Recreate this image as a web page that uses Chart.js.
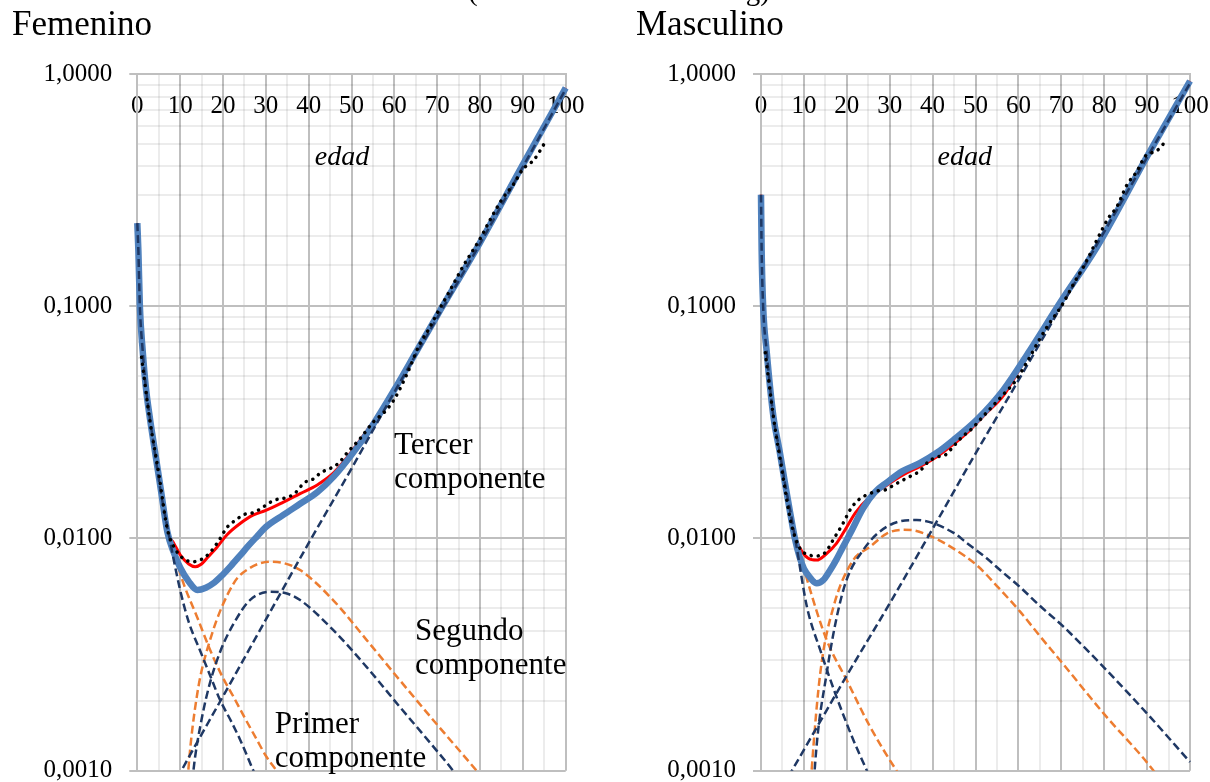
<!DOCTYPE html>
<html lang="es">
<head>
<meta charset="utf-8">
<title>Femenino / Masculino</title>
<script src="https://cdn.jsdelivr.net/npm/chart.js@4.4.1/dist/chart.umd.min.js"></script>
<style>
  html, body { margin: 0; padding: 0; background: #fff; overflow: hidden; }
  #page { position: relative; width: 1210px; height: 782px; }
  .panel { position: absolute; top: 0; height: 782px; width: 605px; }
  #izq { left: 0; }
  #der { left: 605px; }
  #cabecera { position: absolute; left: 468px; top: -24px; font: 29px "Liberation Serif", serif; line-height: 29px; white-space: nowrap; }
</style>
</head>
<body>
<div id="page">
  <div class="panel" id="izq"><canvas id="femenino"></canvas></div>
  <div class="panel" id="der"><canvas id="masculino"></canvas></div>
  <div id="cabecera">(mortalidad en escala log)</div>
</div>
<script>
// ---- Femenino ----
const femEdadesAzul = [0, 0.25, 0.6, 1.25, 2, 3, 4, 5.5, 7, 8.5, 10, 12, 14, 16, 18, 20, 22, 24, 26, 28, 30, 34, 38, 42, 46, 50, 55, 60, 65, 70, 80, 90, 100];
const femAzul = [0.228, 0.174, 0.1, 0.0646, 0.0447, 0.0324, 0.0245, 0.0162, 0.0107, 0.00871, 0.0075, 0.00653, 0.0060, 0.00614, 0.00646, 0.0070, 0.00767, 0.00845, 0.00933, 0.01023, 0.0112, 0.0126, 0.0141, 0.0158, 0.0186, 0.0229, 0.0309, 0.0437, 0.0631, 0.0912, 0.188, 0.407, 0.871];

const femEdadesRojo = [0, 0.25, 0.6, 1.25, 2, 3, 4, 5.5, 7, 8.5, 10, 12, 13.5, 15, 16.5, 18.5, 21, 24, 27, 30, 34, 38, 42, 46, 49, 52, 55, 60, 65, 70, 80, 90, 100];
const femRojo = [0.228, 0.174, 0.1, 0.0646, 0.0447, 0.0324, 0.0245, 0.0162, 0.0107, 0.00955, 0.00851, 0.00776, 0.00755, 0.00776, 0.00832, 0.00912, 0.0104, 0.0116, 0.0126, 0.0132, 0.0143, 0.0156, 0.0170, 0.0193, 0.0224, 0.0265, 0.0316, 0.0437, 0.0631, 0.0912, 0.188, 0.407, 0.871];

const femEdadesObs = [1, 3, 5, 7, 9, 11, 13, 15, 17, 19, 21, 23, 25, 27, 29, 31, 33, 35, 37, 39, 41, 43, 45, 47, 49, 52, 55, 58, 60, 63, 66, 68, 70, 73, 76, 78, 80, 82, 85, 88, 90, 92.6, 95];
const femObs = [0.0603, 0.0316, 0.0191, 0.0110, 0.00891, 0.00813, 0.00794, 0.00813, 0.00871, 0.00977, 0.0112, 0.0120, 0.0127, 0.0129, 0.0135, 0.0143, 0.0148, 0.0150, 0.0158, 0.0174, 0.0180, 0.0193, 0.0200, 0.0211, 0.0234, 0.0269, 0.0316, 0.0355, 0.0398, 0.0513, 0.0692, 0.0794, 0.0933, 0.117, 0.148, 0.170, 0.195, 0.229, 0.286, 0.339, 0.389, 0.427, 0.501];

const femEdadesInfA = [0, 0.25, 0.6, 1.25, 2, 3, 4, 5.5, 7.6, 10, 12, 14.6, 17, 19.3, 22, 24, 27.1, 29];
const femInfA = [0.228, 0.174, 0.1, 0.0646, 0.0447, 0.0324, 0.0240, 0.0158, 0.00984, 0.0060, 0.00437, 0.00331, 0.00257, 0.00202, 0.00162, 0.00136, 0.0010, 0.000832];

const femEdadesInfB = [0, 0.25, 0.6, 1.25, 2, 3, 4, 5.5, 7.6, 10, 11.1, 14, 17, 20, 22.4, 25, 27.9, 30, 32.5, 34];
const femInfB = [0.228, 0.174, 0.1, 0.0646, 0.0447, 0.0324, 0.0240, 0.0158, 0.0102, 0.00708, 0.00617, 0.00457, 0.00331, 0.00251, 0.00209, 0.0017, 0.00136, 0.00116, 0.0010, 0.000912];

const femEdadesJorA = [12.4, 13.1, 15, 17, 19.5, 22.5, 26.3, 31, 34.5, 38, 45.7, 53.5, 61.3, 69.1, 73.7, 76];
const femJorA = [0.000708, 0.0010, 0.00166, 0.0024, 0.00331, 0.0043, 0.00543, 0.00589, 0.00582, 0.00543, 0.00404, 0.0028, 0.00188, 0.00127, 0.0010, 0.000871];

const femEdadesJorB = [11.4, 11.9, 13.9, 17, 22.5, 26, 31, 34, 38, 45.7, 53.5, 61.3, 69.1, 79.2, 81];
const femJorB = [0.000708, 0.0010, 0.00209, 0.00366, 0.00641, 0.00741, 0.00794, 0.00785, 0.00731, 0.00543, 0.00366, 0.00245, 0.00165, 0.0010, 0.000912];

const femEdadesSen = [8, 10, 20, 30, 40, 50, 60, 70, 80, 90, 100];
const femSen = [0.000832, 0.000977, 0.00209, 0.00447, 0.00955, 0.020, 0.0427, 0.0891, 0.186, 0.398, 0.861];

// ---- Masculino ----
const masEdadesAzul = [0, 0.15, 0.5, 1.3, 2.9, 4.3, 5.6, 6.8, 7.9, 9, 10, 11.5, 13, 14.5, 16, 17.6, 19, 21, 23.8, 26.5, 29.3, 33, 37, 41, 44.8, 50.3, 56.5, 62.7, 69.7, 78.3, 90, 100];
const masAzul = [0.302, 0.174, 0.1, 0.0646, 0.0334, 0.0240, 0.0173, 0.0129, 0.0100, 0.00832, 0.00741, 0.00676, 0.00641, 0.00661, 0.00724, 0.00813, 0.00912, 0.0107, 0.0135, 0.0158, 0.0174, 0.0195, 0.0211, 0.0234, 0.0265, 0.0324, 0.0436, 0.0647, 0.1035, 0.180, 0.442, 0.933];

const masEdadesRojo = [0, 0.15, 0.5, 1.3, 2.9, 4.3, 5.6, 6.8, 7.9, 9, 11, 13, 15, 17.6, 20, 22, 25.4, 29, 33.2, 37, 41, 44.8, 48.7, 52, 56.5, 60, 62.7, 69.7, 78.3, 90, 100];
const masRojo = [0.302, 0.174, 0.1, 0.0646, 0.0334, 0.0240, 0.0173, 0.0129, 0.0102, 0.00912, 0.00822, 0.00807, 0.00851, 0.00953, 0.0112, 0.0129, 0.0151, 0.0168, 0.0188, 0.0204, 0.0225, 0.0254, 0.0293, 0.0339, 0.0412, 0.0525, 0.0638, 0.1035, 0.180, 0.442, 0.933];

const masEdadesObs = [1, 3, 5, 7, 9, 11, 13, 15, 17, 19, 21, 23, 25, 27, 29, 31, 33, 35, 37, 39, 41, 43, 45, 47, 49, 52, 55, 57, 59, 62, 65, 67, 70, 73, 76, 78.3, 81, 83, 85.3, 87.6, 89.5, 91, 93, 94.2];
const masObs = [0.0631, 0.0324, 0.0191, 0.0117, 0.00912, 0.00851, 0.00841, 0.00871, 0.010, 0.0115, 0.0135, 0.0148, 0.0155, 0.016, 0.0162, 0.0170, 0.0178, 0.0186, 0.0195, 0.0214, 0.0224, 0.0229, 0.0251, 0.0275, 0.0295, 0.0339, 0.0389, 0.0427, 0.0468, 0.0575, 0.0724, 0.0832, 0.10, 0.126, 0.158, 0.193, 0.240, 0.269, 0.333, 0.380, 0.441, 0.457, 0.479, 0.513];

const masEdadesInfA = [0, 0.15, 0.5, 1.3, 2.9, 4.3, 5.6, 7, 8.3, 10.7, 13.8, 17.6, 21.5, 24.7, 26.5];
const masInfA = [0.302, 0.174, 0.1, 0.0646, 0.0334, 0.0240, 0.0172, 0.0126, 0.0092, 0.00508, 0.00331, 0.00208, 0.00136, 0.0010, 0.000851];

const masEdadesInfB = [0, 0.15, 0.5, 1.3, 2.9, 4.3, 5.6, 7, 8.5, 11, 15.3, 20, 25.4, 31.6, 33.5];
const masInfB = [0.302, 0.174, 0.1, 0.0646, 0.0334, 0.0240, 0.0173, 0.0129, 0.00955, 0.00641, 0.00366, 0.00245, 0.00155, 0.0010, 0.000891];

const masEdadesJorA = [12.1, 12.5, 15.3, 19.2, 23.8, 30.8, 36.3, 44.8, 48, 52.6, 56, 60.4, 65, 70.5, 79.8, 89.9, 100];
const masJorA = [0.000708, 0.0010, 0.00262, 0.0060, 0.00891, 0.0116, 0.0120, 0.0106, 0.00955, 0.00822, 0.00724, 0.00617, 0.00513, 0.00417, 0.0028, 0.00177, 0.00109];

const masEdadesJorB = [11.3, 11.8, 13.8, 16.9, 21.5, 25.4, 29.3, 33.2, 36, 40.2, 45, 50.3, 55, 60.4, 65, 69.7, 79.8, 91.5, 93];
const masJorB = [0.000708, 0.0010, 0.00262, 0.00508, 0.00807, 0.0092, 0.0105, 0.0109, 0.0108, 0.0101, 0.00902, 0.00767, 0.00624, 0.00484, 0.0038, 0.00299, 0.00177, 0.0010, 0.000912];

const masEdadesSen = [5, 10, 20, 30, 40, 50, 60, 70, 80, 90, 100];
const masSen = [0.000851, 0.00123, 0.00257, 0.00525, 0.011, 0.0232, 0.0479, 0.10, 0.209, 0.437, 0.912];

// ---- estilos ----
const AZUL = "#4F81BD";
const MARINO = "#1F3864";
const NARANJA = "#ED7D31";
const ROJO = "#FF0000";
const MAYOR = "#BFBFBF";
const MENOR = "rgba(0,0,0,0.075)";
const FUENTE = "'Liberation Serif', 'Times New Roman', serif";

Chart.defaults.font.family = FUENTE;
Chart.defaults.color = "#000";

const serie = (edades, tasas) => edades.map((e, i) => ({ x: e, y: tasas[i] }));
const esDecada = (v) => Math.abs(Math.log10(v) - Math.round(Math.log10(v))) < 1e-6;

const textos = {
  id: "textos",
  afterDraw(chart, args, opts) {
    const { ctx } = chart;
    const { x, y } = chart.scales;
    ctx.save();
    ctx.fillStyle = "#000";
    ctx.textBaseline = "alphabetic";
    ctx.textAlign = "left";
    ctx.font = "35px " + FUENTE;
    ctx.fillText(opts.titulo, opts.tituloX, 35);
    for (const n of opts.notas) {
      ctx.font = n.font;
      ctx.textAlign = n.align || "left";
      const px = x.getPixelForValue(n.edad);
      const py = y.getPixelForValue(n.tasa);
      n.lineas.forEach((l, i) => ctx.fillText(l, px, py + i * 34));
    }
    ctx.restore();
  }
};

function crearPanel(id, d) {
  const discont = (label, datos, color, orden) => ({
    label, data: datos, borderColor: color, borderWidth: 2.5, borderDash: [8, 4], order: orden
  });
  return new Chart(document.getElementById(id), {
    type: "line",
    data: {
      datasets: [
        { label: "Observado", data: d.obs, borderColor: "#000", borderWidth: 3.5,
          borderDash: [0.1, 7], borderCapStyle: "round", order: 0 },
        discont("Primer componente", d.infA, MARINO, 1),
        discont("Segundo componente", d.jorA, MARINO, 1),
        discont("Tercer componente", d.sen, MARINO, 1),
        { label: "Ajuste", data: d.azul, borderColor: AZUL, borderWidth: 6.5, order: 2 },
        { label: "Ajuste alternativo", data: d.rojo, borderColor: ROJO, borderWidth: 3, order: 3 },
        discont("Primer componente (alt.)", d.infB, NARANJA, 4),
        discont("Segundo componente (alt.)", d.jorB, NARANJA, 4)
      ]
    },
    options: {
      responsive: true,
      maintainAspectRatio: false,
      animation: false,
      layout: { padding: { left: 0, top: 74, right: d.padDer, bottom: 11.3 } },
      elements: {
        point: { radius: 0 },
        line: { cubicInterpolationMode: "monotone", fill: false }
      },
      datasets: { line: { clip: { left: 4, right: 4, top: 4, bottom: 0 } } },
      plugins: {
        legend: { display: false },
        tooltip: { enabled: false },
        textos: { titulo: d.titulo, tituloX: d.tituloX, notas: d.notas }
      },
      scales: {
        x: {
          type: "linear", position: "top", min: 0, max: 100,
          afterFit: (s) => { s.height = 0; s.paddingLeft = 0; s.paddingRight = 0; },
          ticks: {
            stepSize: 5, autoSkip: false, maxRotation: 0, mirror: true, padding: 17,
            font: { size: 25 }, color: "#000",
            callback: (v) => (v % 10 === 0 ? String(v) : "")
          },
          grid: {
            drawTicks: false, lineWidth: 2,
            color: (c) => (c.tick && c.tick.value % 10 === 0 ? MAYOR : MENOR)
          },
          border: { color: MAYOR, width: 2 }
        },
        y: {
          type: "logarithmic", min: 0.001, max: 1,
          afterFit: (s) => { s.width = d.anchoEje; s.paddingTop = 0; s.paddingBottom = 0; },
          ticks: {
            autoSkip: false, padding: 17, font: { size: 25 }, color: "#000",
            callback: (v) => (esDecada(v) ? v.toFixed(4).replace(".", ",") : "")
          },
          grid: {
            lineWidth: 2, tickLength: 8,
            color: (c) => (c.tick && esDecada(c.tick.value) ? MAYOR : MENOR),
            tickColor: (c) => (c.tick && esDecada(c.tick.value) ? MAYOR : "rgba(0,0,0,0)")
          },
          border: { color: MAYOR, width: 2 }
        }
      }
    },
    plugins: [textos]
  });
}

crearPanel("femenino", {
  titulo: "Femenino", tituloX: 12, anchoEje: 137.3, padDer: 39.3,
  obs: serie(femEdadesObs, femObs),
  azul: serie(femEdadesAzul, femAzul),
  rojo: serie(femEdadesRojo, femRojo),
  infA: serie(femEdadesInfA, femInfA),
  infB: serie(femEdadesInfB, femInfB),
  jorA: serie(femEdadesJorA, femJorA),
  jorB: serie(femEdadesJorB, femJorB),
  sen: serie(femEdadesSen, femSen),
  notas: [
    { lineas: ["edad"], edad: 47.8, tasa: 0.405, font: "italic 28px " + FUENTE, align: "center" },
    { lineas: ["Tercer", "componente"], edad: 59.9, tasa: 0.0232, font: "31px " + FUENTE },
    { lineas: ["Segundo", "componente"], edad: 64.8, tasa: 0.00365, font: "31px " + FUENTE },
    { lineas: ["Primer", "componente"], edad: 32.1, tasa: 0.00145, font: "31px " + FUENTE }
  ]
});

crearPanel("masculino", {
  titulo: "Masculino", tituloX: 31, anchoEje: 156, padDer: 20,
  obs: serie(masEdadesObs, masObs),
  azul: serie(masEdadesAzul, masAzul),
  rojo: serie(masEdadesRojo, masRojo),
  infA: serie(masEdadesInfA, masInfA),
  infB: serie(masEdadesInfB, masInfB),
  jorA: serie(masEdadesJorA, masJorA),
  jorB: serie(masEdadesJorB, masJorB),
  sen: serie(masEdadesSen, masSen),
  notas: [
    { lineas: ["edad"], edad: 47.5, tasa: 0.405, font: "italic 28px " + FUENTE, align: "center" }
  ]
});
</script>
</body>
</html>
